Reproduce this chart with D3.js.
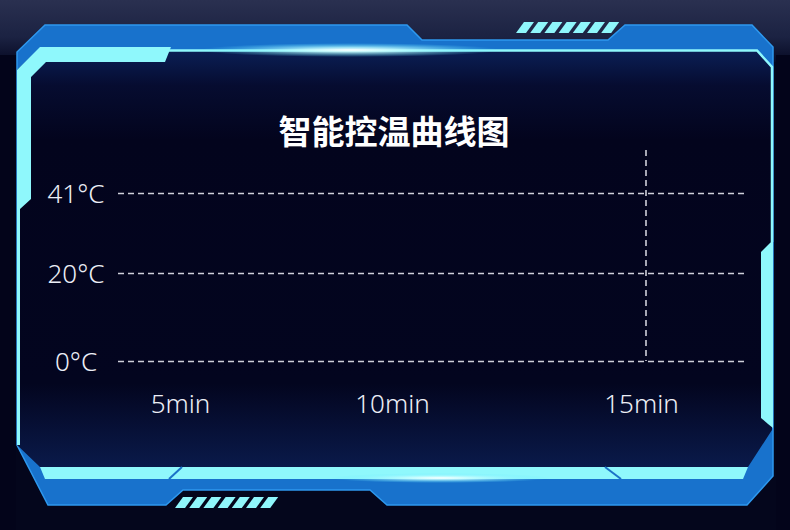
<!DOCTYPE html>
<meta charset="utf-8">
<style>
  body { margin: 0; background: #04061c; }
  .axis .domain { display: none; }
  .axis text { font: 300 26px "Noto Sans", sans-serif; fill: #eceef6; }
  .grid line { stroke: #cfd0da; stroke-width: 1.6; stroke-dasharray: 6,4; }
  .title { font: bold 33px "Noto Sans CJK SC", sans-serif; fill: #ffffff; }
</style>
<svg width="790" height="530"></svg>
<script src="https://d3js.org/d3.v7.min.js"></script>
<script>
// chart values
var yTicks = [0, 20, 41];
var yTickLabels = ["0°C", "20°C", "41°C"];
var xTicks = [5, 10, 15];
var xTickLabels = ["5min", "10min", "15min"];
var cursorAt = [15];
var title = "智能控温曲线图";

var svg = d3.select("svg");
var defs = svg.append("defs");

// gradients
var sky = defs.append("linearGradient").attr("id", "sky").attr("x1", 0).attr("y1", 0).attr("x2", 0).attr("y2", 1);
sky.append("stop").attr("offset", 0).attr("stop-color", "#2a3050");
sky.append("stop").attr("offset", 0.6).attr("stop-color", "#1b2242");
sky.append("stop").attr("offset", 1).attr("stop-color", "#070a24");

var panel = defs.append("linearGradient").attr("id", "panel").attr("x1", 0).attr("y1", 0).attr("x2", 0).attr("y2", 1);
panel.append("stop").attr("offset", 0).attr("stop-color", "#0b2058");
panel.append("stop").attr("offset", 0.09).attr("stop-color", "#060c30");
panel.append("stop").attr("offset", 0.22).attr("stop-color", "#03041d");
panel.append("stop").attr("offset", 0.8).attr("stop-color", "#03051f");
panel.append("stop").attr("offset", 1).attr("stop-color", "#0a1a4a");

var glow = defs.append("radialGradient").attr("id", "glow");
glow.append("stop").attr("offset", 0).attr("stop-color", "#ffffff").attr("stop-opacity", 1);
glow.append("stop").attr("offset", 0.35).attr("stop-color", "#bdfcff").attr("stop-opacity", 0.8);
glow.append("stop").attr("offset", 1).attr("stop-color", "#5fe8ff").attr("stop-opacity", 0);

// background
svg.append("rect").attr("width", 790).attr("height", 530).attr("fill", "#04061c");
svg.append("rect").attr("width", 790).attr("height", 62).attr("fill", "url(#sky)");
svg.append("rect").attr("x", 776).attr("y", 55).attr("width", 14).attr("height", 475).attr("fill", "#03041a");
svg.append("rect").attr("x", 0).attr("y", 55).attr("width", 16).attr("height", 475).attr("fill", "#03041a");

// frame
var frame = svg.append("g");
frame.append("path")
  .attr("d", "M45,25 L407,25 L422,40 L608,40 L625,25 L752,25 L773,47 L773,476 L747,505 L387,505 L370,490 L183,490 L166,505 L48,505 L17,445 L17,52 Z")
  .attr("fill", "#1872cc").attr("stroke", "#2e98ee").attr("stroke-width", 1.5);

frame.append("path")
  .attr("d", "M170,51 L757,51 L772,68 L772,430 L748,467 L40,467 L17,445 L17,70 L40,48 Z")
  .attr("fill", "url(#panel)");

// top stripes and bottom stripes
function stripes(x0, y0, h, n, w, step, slant) {
  frame.selectAll(null).data(d3.range(n)).enter().append("path")
    .attr("d", function(i) {
      var x = x0 + i * step;
      return "M" + (x + slant) + "," + y0 + " L" + (x + slant + w) + "," + y0 +
             " L" + (x + w) + "," + (y0 + h) + " L" + x + "," + (y0 + h) + " Z";
    })
    .attr("fill", "#8ff6fb");
}
stripes(516, 22, 11, 7, 10, 14.2, 8);
stripes(175, 497, 11, 7, 10, 14.2, 8);

// cyan elements
frame.append("path")
  .attr("d", "M40,47 L171,47 L165,62 L46,62 L31,77 L31,199 L20,209 L20,445 L17,445 L17,70 Z")
  .attr("fill", "#8ff8fc");
frame.append("path")
  .attr("d", "M165,50.5 L757,50.5 L772,67 L772,242")
  .attr("fill", "none").attr("stroke", "#8ff8fc").attr("stroke-width", 2.5);
frame.append("path")
  .attr("d", "M761,252 L773,240 L773,428 L768,424 L761,418 Z")
  .attr("fill", "#8ff8fc");
frame.append("path")
  .attr("d", "M40,467 L748,467 L743,479 L45,479 Z")
  .attr("fill", "#8ff8fc");
frame.append("path").attr("d", "M182,467 L169,479").attr("stroke", "#1a72c8").attr("stroke-width", 2);
frame.append("path").attr("d", "M605,467 L621,479").attr("stroke", "#1a72c8").attr("stroke-width", 2);

// glows
frame.append("ellipse").attr("cx", 350).attr("cy", 50).attr("rx", 150).attr("ry", 7).attr("fill", "url(#glow)");
frame.append("ellipse").attr("cx", 440).attr("cy", 478).attr("rx", 110).attr("ry", 5).attr("fill", "url(#glow)");

// title
svg.append("text").attr("class", "title")
  .attr("x", 394).attr("y", 130)
  .attr("text-anchor", "middle").attr("dominant-baseline", "central")
  .text(title);

// scales
var y = d3.scaleLinear().domain(yTicks).range([361, 273, 193]);
var x = d3.scaleLinear().domain(xTicks).range([180, 392, 641]);
var left = 118, right = 745;

// y axis with dashed gridlines
var yAxis = svg.append("g")
  .attr("class", "axis grid")
  .attr("transform", "translate(" + left + ",0)")
  .call(d3.axisLeft(y).tickValues(yTicks).tickSize(-(right - left)).tickFormat(function(d, i) { return yTickLabels[i]; }));
yAxis.selectAll(".tick text")
  .attr("x", -42).attr("dy", "0.35em").attr("text-anchor", "middle");

// x axis
var xAxis = svg.append("g")
  .attr("class", "axis")
  .attr("transform", "translate(0," + y(0) + ")")
  .call(d3.axisBottom(x).tickValues(xTicks).tickSize(0).tickFormat(function(d, i) { return xTickLabels[i]; }));
xAxis.selectAll(".tick text").attr("y", 52).attr("dy", 0);

// vertical cursor line
svg.append("g").attr("class", "grid")
  .selectAll("line").data(cursorAt).enter().append("line")
  .attr("x1", function(d) { return x(d) + 5; })
  .attr("x2", function(d) { return x(d) + 5; })
  .attr("y1", 150)
  .attr("y2", y(0));
</script>
